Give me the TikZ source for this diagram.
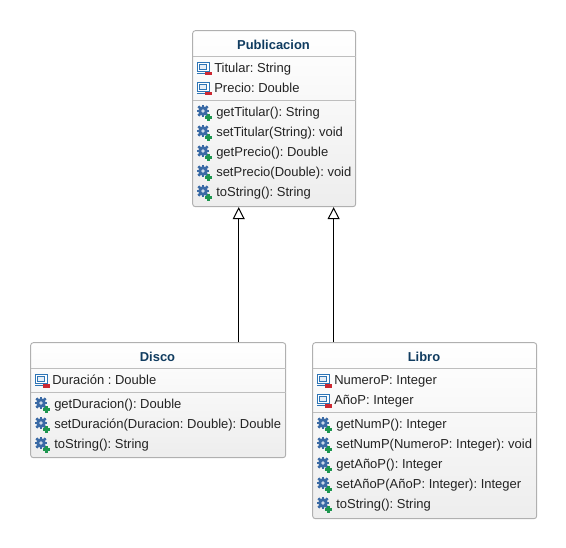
\documentclass[tikz,border=0pt]{standalone}
\usepackage{fontspec}
\setmainfont{Liberation Sans}
\frenchspacing
\usetikzlibrary{arrows.meta, positioning, calc, shapes.geometric}
\definecolor{umltitle}{RGB}{16,60,96}
\definecolor{umlborder}{RGB}{176,176,176}
\definecolor{umlline}{RGB}{190,190,190}
\definecolor{umltext}{RGB}{35,35,35}
\definecolor{iconblue}{RGB}{46,117,182}
\definecolor{iconred}{RGB}{204,40,50}
\definecolor{icongreen}{RGB}{30,150,80}
\definecolor{gearblue}{RGB}{58,106,165}
\tikzset{
  % Class box
  umlclass/.style={
    rectangle, rounded corners=2pt, draw=umlborder, line width=0.7pt,
    top color=white, bottom color=black!7, minimum width=#1*0.75pt, inner sep=0pt
  },
  classtitle/.style={font=\fontsize{9.7}{11}\selectfont\bfseries, text=umltitle, inner sep=0pt},
  member/.style={font=\fontsize{9.75}{11}\selectfont, text=umltext, inner sep=0pt, anchor=base west},
  divider/.style={draw=umlline, line width=0.7pt},
  inherit/.style={-{Triangle[open, length=9pt, width=9pt, fill=white]}, black, line width=0.75pt},
  % Attribute icon
  attricon/.pic={
    \draw[iconblue, line width=0.6pt, fill=white] (-7,-5.5) rectangle (5,3.5);
    \draw[iconblue, line width=0.5pt, fill=iconblue!12] (-4.5,-3.5) rectangle (2.5,1);
    \draw[iconblue, line width=0.6pt] (-7,5) -- (1,5);
    \fill[iconred] (1,4.3) rectangle (8,7.5);
  },
  % Method icon
  methodicon/.pic={
    \foreach \ang in {0,45,...,315}
      \fill[gearblue, shift={(0,-1)}, rotate=\ang] (-1.2,-6.4) rectangle (1.2,6.4);
    \fill[gearblue] (0,-1) circle (4.8);
    \fill[white!75!gearblue] (0,-1) circle (1.8);
    \fill[icongreen] (4.3,2) rectangle (6.7,9.2);
    \fill[icongreen] (1.9,4.4) rectangle (9.1,6.8);
  }
}
% Row macros: \attrrow{name}{x}{y}{text}, \methodrow{name}{x}{y}{text}
\newcommand{\attrrow}[4]{
  \pic at (#2+12,#3) {attricon};
  \node[member] (#1) at (#2+22,#3+4.5) {#4};
}
\newcommand{\methodrow}[4]{
  \pic at (#2+11,#3) {methodicon};
  \node[member] (#1) at (#2+24,#3+4.5) {#4};
}
\begin{document}
\begin{tikzpicture}[x=0.75pt, y=-0.75pt]
  \useasboundingbox (0,0) rectangle (566,548);

  % Class boxes
  \node[umlclass=163, minimum height=132pt, anchor=north west] (publicacion) at (192.2,30.2) {};
  \node[umlclass=255, minimum height=86.25pt, anchor=north west] (disco) at (30.2,342.2) {};
  \node[umlclass=224, minimum height=132pt, anchor=north west] (libro) at (312.2,342.2) {};

  % Titles
  \node[classtitle] (publicaciontitle) at (273.5,45) {Publicacion};
  \node[classtitle] (discotitle) at (157.5,357) {Disco};
  \node[classtitle] (librotitle) at (424,357) {Libro};

  % Dividers
  \draw[divider] (192.5,56.5) -- (355.5,56.5);
  \draw[divider] (192.5,100.5) -- (355.5,100.5);
  \draw[divider] (30.5,368.5) -- (285.5,368.5);
  \draw[divider] (30.5,392.5) -- (285.5,392.5);
  \draw[divider] (312.5,368.5) -- (536.5,368.5);
  \draw[divider] (312.5,412.5) -- (536.5,412.5);

  % Publicacion members
  \attrrow{pubtitular}{192}{68}{Titular: String}
  \attrrow{pubprecio}{192}{88}{Precio: Double}
  \methodrow{pubgettitular}{192}{112}{getTitular(): String}
  \methodrow{pubsettitular}{192}{132}{setTitular(String): void}
  \methodrow{pubgetprecio}{192}{152}{getPrecio(): Double}
  \methodrow{pubsetprecio}{192}{172}{setPrecio(Double): void}
  \methodrow{pubtostring}{192}{192}{toString(): String}

  % Disco members
  \attrrow{disduracion}{30}{380}{Duración : Double}
  \methodrow{disgetduracion}{30}{404}{getDuracion(): Double}
  \methodrow{dissetduracion}{30}{424}{setDuración(Duracion: Double): Double}
  \methodrow{distostring}{30}{444}{toString(): String}

  % Libro members
  \attrrow{libnumero}{312}{380}{NumeroP: Integer}
  \attrrow{libanio}{312}{400}{AñoP: Integer}
  \methodrow{libgetnum}{312}{424}{getNumP(): Integer}
  \methodrow{libsetnum}{312}{444}{setNumP(NumeroP: Integer): void}
  \methodrow{libgetanio}{312}{464}{getAñoP(): Integer}
  \methodrow{libsetanio}{312}{484}{setAñoP(AñoP: Integer): Integer}
  \methodrow{libtostring}{312}{504}{toString(): String}

  % Inheritance arrows
  \coordinate (discotip) at ([xshift=-26.6pt]publicacion.south);
  \coordinate (librotip) at ([xshift=44.6pt]publicacion.south);
  \draw[inherit] (disco.north -| discotip) -- (discotip);
  \draw[inherit] (libro.north -| librotip) -- (librotip);
\end{tikzpicture}
\end{document}
